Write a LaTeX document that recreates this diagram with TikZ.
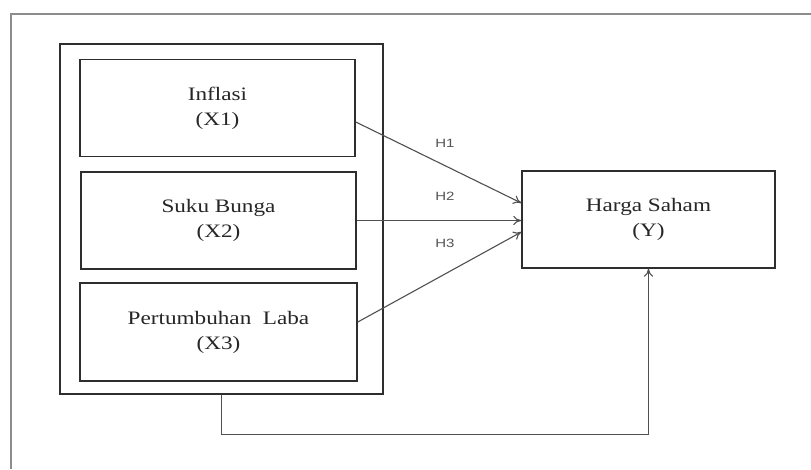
\documentclass[tikz,border=0pt]{standalone}
\usepackage{fontspec}
\setmainfont{Liberation Serif}
\newfontfamily\boxfont[FakeStretch=1.22]{Liberation Serif}
\newfontfamily\lblfont[FakeStretch=1.25]{Liberation Sans}
\usetikzlibrary{arrows.meta,calc}
\definecolor{framegray}{HTML}{8C8C8C}
\definecolor{boxline}{HTML}{2E2E2E}
\definecolor{arrowgray}{HTML}{505050}
\definecolor{lblgray}{HTML}{555555}
\tikzset{
  varbox/.style={draw=boxline, line width=1.6pt, rectangle, minimum width=275pt, minimum height=97pt,
    align=center, font=\boxfont\fontsize{19}{25}\selectfont, text=black!85, inner sep=0pt},
  groupbox/.style={draw=boxline, line width=2.4pt, rectangle, minimum width=323pt, minimum height=350pt, inner sep=0pt},
  conn/.style={draw=arrowgray, line width=1.1pt, -{To[length=8pt,width=9pt]}},
  hlabel/.style={font=\lblfont\fontsize{12}{14}\selectfont, text=lblgray, inner sep=0pt},
}
\begin{document}
\begin{tikzpicture}[x=1pt,y=-1pt]
\useasboundingbox (0,0) rectangle (811,469);
\fill[white] (0,0) rectangle (811,469);
\draw[framegray, line width=2pt] (11,469) -- (11,14) -- (811,14);

\node[groupbox] (grp) at (221.5,219) {};
\node[varbox] (x1) at (217.5,108) {Inflasi\\(X1)};
\node[varbox] (x2) at (218.5,220.5) {Suku Bunga\\(X2)};
\node[varbox, minimum width=277pt, minimum height=98pt] (x3) at (218.5,332) {Pertumbuhan\ \ Laba\\(X3)};
\node[varbox, minimum width=253pt, minimum height=97pt, line width=1.4pt] (y) at (648.5,219.5) {Harga Saham\\(Y)};

\draw[conn] ([yshift=-14pt]x1.east) -- ([yshift=16.5pt]y.west);
\draw[conn] (x2.east) -- (x2.east -| y.west);
\draw[conn] ([yshift=10pt]x3.east) -- ([yshift=-12.5pt]y.west);

\coordinate (ret) at ($(grp.south)+(0,39)$);
\draw[conn] (grp.south) -- (ret) -| (y.south);

\node[hlabel] (h1) at (445,143) {H1};
\node[hlabel] (h2) at (445,196) {H2};
\node[hlabel] (h3) at (445,243) {H3};
\end{tikzpicture}
\end{document}
